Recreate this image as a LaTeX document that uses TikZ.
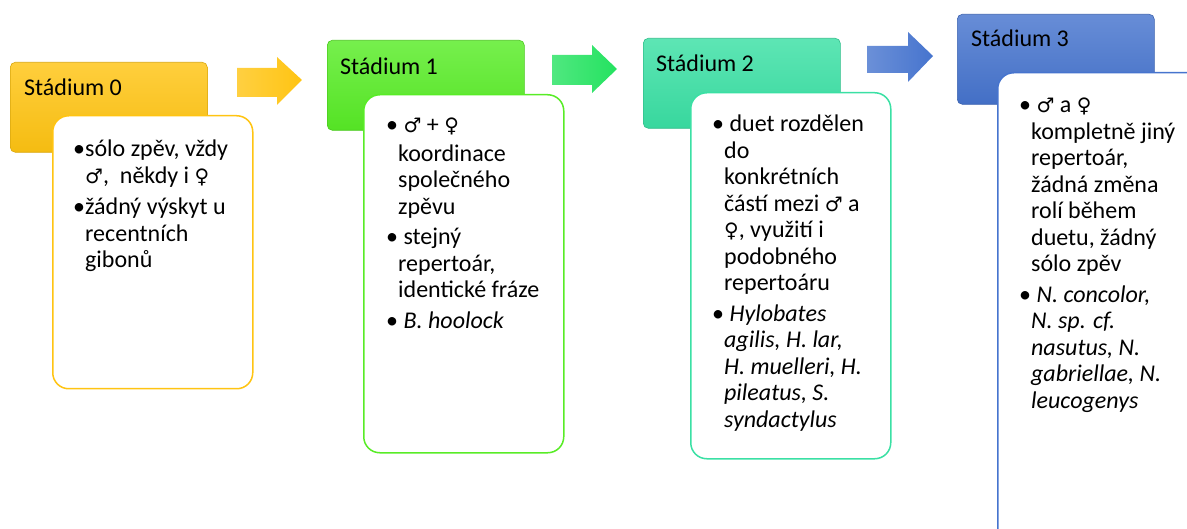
\documentclass[tikz,border=0pt]{standalone}
\usepackage{fontspec}
\setmainfont{Carlito}
\newfontfamily\symfont{DejaVu Sans}

\definecolor{zluta}{RGB}{255,196,18}
\definecolor{zelena}{RGB}{88,236,38}
\definecolor{tyrkys}{RGB}{58,224,164}
\definecolor{modra}{RGB}{70,116,206}
\definecolor{sipkazel}{RGB}{36,226,96}

\newcommand{\samec}{{\symfont\fontsize{20}{20}\selectfont ♂}}
\newcommand{\samice}{{\symfont\fontsize{20}{20}\selectfont ♀}}

\tikzset{
  hlava/.style={anchor=north west, rounded corners=5pt, inner sep=0pt, minimum width=197pt, minimum height=90pt, top color=#1!82!white, bottom color=#1!96!black, draw=#1!85!black, line width=0.6pt},
  telo/.style={anchor=north west, rounded corners=16pt, inner sep=0pt, minimum width=200pt, fill=white, draw=#1, line width=1.5pt},
  nadpis/.style={anchor=base west, inner sep=0pt, font=\fontsize{24}{28}\selectfont},
  odrazky/.style={anchor=base west, inner sep=0pt, font=\fontsize{24}{26.5}\selectfont},
  sipka/.style={left color=#1!80!white, right color=#1, draw=none}
}

\begin{document}
\begin{tikzpicture}[x=1pt, y=-1pt]

    \clip (0,0) rectangle (1187,529);

    \shade [sipka=zluta] (237,68) -- (277,68) -- (277,57) -- (302,80) -- (277,105) -- (277,97) -- (237,97) -- cycle;
    \shade [sipka=sipkazel] (552,55) -- (592,55) -- (592,45) -- (617,69) -- (592,93) -- (592,85) -- (552,85) -- cycle;
    \shade [sipka=modra] (867,46) -- (908,46) -- (908,32) -- (933,56) -- (908,82) -- (908,73) -- (867,73) -- cycle;

    \node (h0) [hlava=zluta] at (10,62) {}; \node (t0) [nadpis] at (24,96) {Stádium 0};
    \node (b0) [telo=zluta, minimum height=273pt] at (52,115) {};
    \node (n0) [odrazky] at (73,157) {\begin{tabular}[t]{@{}l@{}l@{}}
        •& sólo zpěv, vždy\\
        & \samec,\ \ někdy i \samice\\[5pt]
        •& žádný výskyt u\\
        & recentních\\
        & gibonů
    \end{tabular}};

    \node (h1) [hlava=zelena] at (327,40) {}; \node (t1) [nadpis] at (340,75) {Stádium 1};
    \node (b1) [telo=zelena, minimum height=358pt] at (363,94) {};
    \node (n1) [odrazky] at (386,133) {\begin{tabular}[t]{@{}l@{}l@{}}
        •& \ \samec\ + \samice\\[2pt]
        & koordinace\\
        & společného\\
        & zpěvu\\[4pt]
        •& \ stejný\\
        & repertoár,\\
        & identické fráze\\[4pt]
        •& \ \textit{B. hoolock}
    \end{tabular}};

    \node (h2) [hlava=tyrkys] at (643,38) {}; \node (t2) [nadpis] at (656,72) {Stádium 2};
    \node (b2) [telo=tyrkys, minimum height=366pt] at (690,92) {};
    \node (n2) [odrazky] at (712,132) {\begin{tabular}[t]{@{}l@{}l@{}}
        •& \ duet rozdělen\\
        & do\\
        & konkrétních\\
        & částí mezi \samec\ a\\
        & \samice, využití i\\
        & podobného\\
        & repertoáru\\[4pt]
        •& \ \textit{Hylobates}\\
        & \textit{agilis, H. lar,}\\
        & \textit{H. muelleri, H.}\\
        & \textit{pileatus, S.}\\
        & \textit{syndactylus}
    \end{tabular}};

    \node (h3) [hlava=modra] at (957,14) {}; \node (t3) [nadpis] at (971,47) {Stádium 3};
    \node (b3) [telo=modra, minimum width=220pt, minimum height=480pt] at (997,72) {};
    \node (n3) [odrazky] at (1019,113) {\begin{tabular}[t]{@{}l@{}l@{}}
        •& \ \samec\ a \samice\\
        & kompletně jiný\\
        & repertoár,\\
        & žádná změna\\
        & rolí během\\
        & duetu, žádný\\
        & sólo zpěv\\[4pt]
        •& \ \textit{N. concolor,}\\
        & \textit{N. sp. cf.}\\
        & \textit{nasutus, N.}\\
        & \textit{gabriellae, N.}\\
        & \textit{leucogenys}
    \end{tabular}};

\end{tikzpicture}
\end{document}
